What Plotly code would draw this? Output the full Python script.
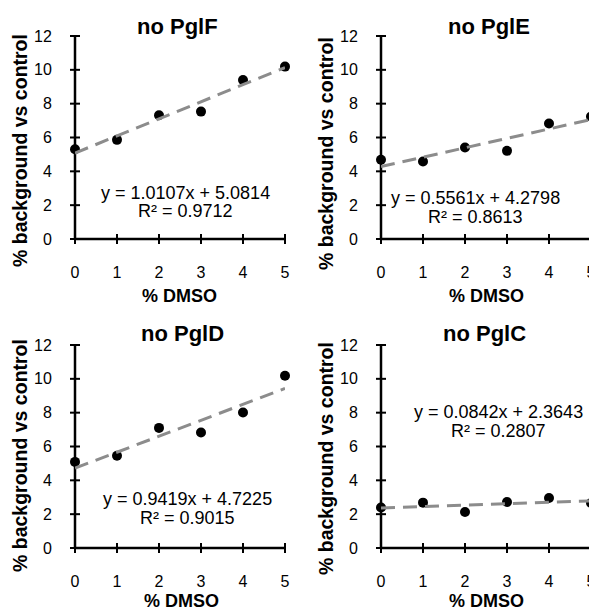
import plotly.graph_objects as go

# ---------------- data ----------------
dmso = [0, 1, 2, 3, 4, 5]
panel_titles = ["no PglF", "no PglE", "no PglD", "no PglC"]
pglF = [5.31, 5.86, 7.32, 7.53, 9.40, 10.19]
pglE = [4.68, 4.58, 5.41, 5.21, 6.83, 7.24]
pglD = [5.09, 5.45, 7.10, 6.83, 8.01, 10.18]
pglC = [2.39, 2.68, 2.13, 2.72, 2.96, 2.66]
slopes = [1.0107, 0.5561, 0.9419, 0.0842]
intercepts = [5.0814, 4.2798, 4.7225, 2.3643]
r_squared = [0.9712, 0.8613, 0.9015, 0.2807]
x_tick_vals = [0, 1, 2, 3, 4, 5]
y_tick_vals = [0, 2, 4, 6, 8, 10, 12]
y_minor_vals = [1, 3, 5, 7, 9, 11]
x_title = "% DMSO"
y_title = "% background vs control"

series = [pglF, pglE, pglD, pglC]

# ---------------- layout constants ----------------
# the page body adds an 8px margin at the top-left
OFF = 8
W, H = 597 - OFF, 611 - OFF
FONT = "Liberation Sans, Arial, sans-serif"
LINE_SYM = 1.4   # plotly draws line-ns / line-ew symbols 1.4x the marker size
px_x = [(75, 285), (381, 591), (75, 285), (381, 591)]      # page pixels
px_y = [(36, 239), (36, 239), (345, 548), (345, 548)]
eq_pos = [(2.62, 2.72, 1.65), (2.26, 2.42, 1.30), (2.67, 2.90, 1.77), (2.80, 8.06, 6.91)]
title_pos = [(177.5, 27), (488.5, 27), (182.5, 333), (484.5, 333)]
ytitle_pos = [(20, 151), (326, 154), (20, 456), (326, 459)]
xtitle_pos = [(179, 296), (486, 296), (181, 601), (486, 601)]


def fx(p):
    return (p - OFF) / W


def fy(p):
    return 1 - (p - OFF) / H


fig = go.Figure()
layout = dict(
    width=W, height=H, autosize=False,
    margin=dict(l=0, r=0, t=0, b=0, autoexpand=False),
    paper_bgcolor="white", plot_bgcolor="white",
    showlegend=False,
    font=dict(family=FONT, color="black", size=16),
    annotations=[],
)

for i in range(4):
    n = i + 1
    xa = "x" if n == 1 else f"x{n}"
    ya = "y" if n == 1 else f"y{n}"
    xd = [fx(px_x[i][0]), fx(px_x[i][1])]
    yd = [fy(px_y[i][1]), fy(px_y[i][0])]
    w_px = px_x[i][1] - px_x[i][0]
    h_px = px_y[i][1] - px_y[i][0]
    x0, x1 = x_tick_vals[0], x_tick_vals[-1]
    y0, y1 = y_tick_vals[0], y_tick_vals[-1]
    sx = w_px / (x1 - x0)

    # axes: labels only (marks drawn below); transparent ticks set the label distance
    layout["xaxis" if n == 1 else f"xaxis{n}"] = dict(
        domain=xd, anchor=ya, range=[x0, x1],
        tickmode="array", tickvals=x_tick_vals,
        ticks="outside", ticklen=19, tickwidth=1, tickcolor="rgba(0,0,0,0)",
        showline=False, showgrid=False, zeroline=False, automargin=False,
        tickfont=dict(size=16, family=FONT),
    )
    layout["yaxis" if n == 1 else f"yaxis{n}"] = dict(
        domain=yd, anchor=xa, range=[y0, y1],
        tickmode="array", tickvals=y_tick_vals,
        ticks="outside", ticklen=19, tickwidth=1, tickcolor="rgba(0,0,0,0)",
        showline=False, showgrid=False, zeroline=False, automargin=False,
        tickfont=dict(size=16, family=FONT),
    )

    # axis lines, drawn as unclipped line markers spanning the plot area
    fig.add_trace(go.Scatter(
        x=[x0], y=[(y0 + y1) / 2], xaxis=xa, yaxis=ya, mode="markers",
        hoverinfo="skip", cliponaxis=False,
        marker=dict(symbol="line-ns", size=(h_px + 2) / LINE_SYM,
                    line=dict(color="black", width=2.5)),
    ))
    fig.add_trace(go.Scatter(
        x=[(x0 + x1) / 2], y=[y0], xaxis=xa, yaxis=ya, mode="markers",
        hoverinfo="skip", cliponaxis=False,
        marker=dict(symbol="line-ew", size=(w_px + 2) / LINE_SYM,
                    line=dict(color="black", width=2.5)),
    ))
    # major x ticks crossing the axis (10px long)
    fig.add_trace(go.Scatter(
        x=x_tick_vals, y=[y0] * len(x_tick_vals), xaxis=xa, yaxis=ya,
        mode="markers", hoverinfo="skip", cliponaxis=False,
        marker=dict(symbol="line-ns", size=10 / LINE_SYM, line=dict(color="black", width=2)),
    ))
    # major y ticks crossing the axis (10px long)
    fig.add_trace(go.Scatter(
        x=[x0] * len(y_tick_vals), y=y_tick_vals, xaxis=xa, yaxis=ya,
        mode="markers", hoverinfo="skip", cliponaxis=False,
        marker=dict(symbol="line-ew", size=10 / LINE_SYM, line=dict(color="black", width=2)),
    ))
    # minor y ticks, outside only (4px long)
    fig.add_trace(go.Scatter(
        x=[x0 - 2 / sx] * len(y_minor_vals), y=y_minor_vals, xaxis=xa, yaxis=ya,
        mode="markers", hoverinfo="skip", cliponaxis=False,
        marker=dict(symbol="line-ew", size=4 / LINE_SYM, line=dict(color="black", width=1.5)),
    ))

    # data points
    fig.add_trace(go.Scatter(
        x=dmso, y=series[i], xaxis=xa, yaxis=ya, mode="markers",
        marker=dict(color="black", size=10), cliponaxis=False,
    ))
    # linear trendline from the fitted coefficients
    tx = [dmso[0], dmso[-1]]
    ty = [intercepts[i] + slopes[i] * v for v in tx]
    fig.add_trace(go.Scatter(
        x=tx, y=ty, xaxis=xa, yaxis=ya, mode="lines",
        line=dict(color="#8c8c8c", width=3, dash="14px,8px"), cliponaxis=False,
    ))

    ex, ey1, ey2 = eq_pos[i]
    layout["annotations"] += [
        dict(x=ex, y=ey1, xref=xa, yref=ya, showarrow=False,
             text=f"y = {slopes[i]:.4f}x + {intercepts[i]:.4f}",
             font=dict(size=18, family=FONT), xanchor="center", yanchor="middle"),
        dict(x=ex, y=ey2, xref=xa, yref=ya, showarrow=False,
             text=f"R² = {r_squared[i]:.4f}",
             font=dict(size=18, family=FONT), xanchor="center", yanchor="middle"),
        dict(x=fx(title_pos[i][0]), y=fy(title_pos[i][1]), xref="paper", yref="paper",
             showarrow=False, text=f"<b>{panel_titles[i]}</b>",
             font=dict(size=22, family=FONT), xanchor="center", yanchor="middle"),
        dict(x=fx(ytitle_pos[i][0]), y=fy(ytitle_pos[i][1]), xref="paper", yref="paper",
             showarrow=False, text=f"<b>{y_title}</b>", textangle=-90,
             font=dict(size=19.5, family=FONT), xanchor="center", yanchor="middle"),
        dict(x=fx(xtitle_pos[i][0]), y=fy(xtitle_pos[i][1]), xref="paper", yref="paper",
             showarrow=False, text=f"<b>{x_title}</b>",
             font=dict(size=18, family=FONT), xanchor="center", yanchor="middle"),
    ]

fig.update_layout(**layout)
fig.write_html("out.html")
